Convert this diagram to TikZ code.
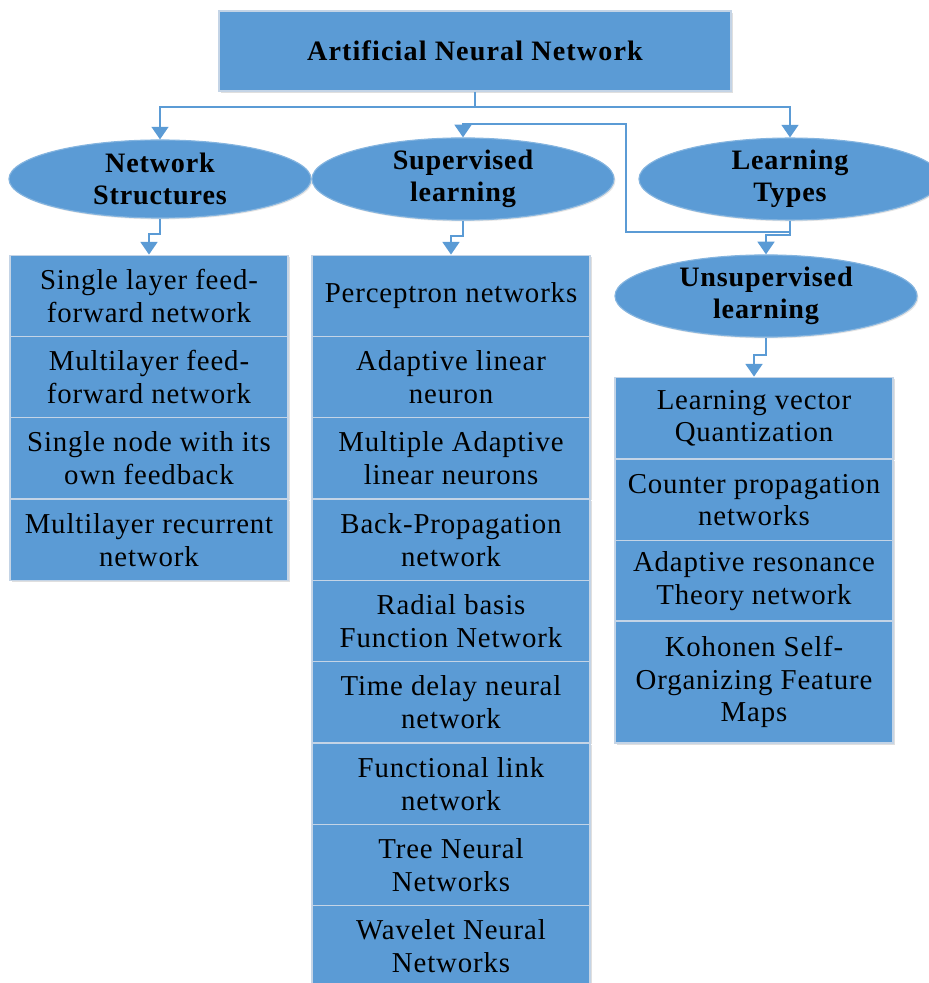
\documentclass[tikz,border=0pt]{standalone}
\usepackage{fontspec}
\setmainfont{Liberation Serif}
\usetikzlibrary{arrows.meta,shapes.geometric,shadows}
\definecolor{annblue}{RGB}{91,155,213}
\definecolor{cellline}{RGB}{196,212,230}
\tikzset{
  cell/.style={rectangle, fill=annblue, draw=cellline, line width=1.1pt,
    minimum width=6.95cm, minimum height=2.03cm, inner sep=0pt, align=center,
    drop shadow={shadow xshift=1.2pt, shadow yshift=-1.2pt, opacity=0.25},
    font=\fontsize{20.5}{23}\selectfont\addfontfeature{LetterSpace=3}},
  oval/.style={ellipse, fill=annblue, draw=annblue!75!white, line width=0.8pt,
    minimum width=7.55cm, minimum height=1.95cm, inner sep=0pt, align=center,
    drop shadow={shadow xshift=1pt, shadow yshift=-1pt, opacity=0.2},
    font=\fontsize{20}{23}\selectfont\bfseries\addfontfeature{LetterSpace=3}},
  link/.style={draw=annblue, line width=1.4pt, -{Triangle[width=12pt,length=9pt]}}
}
\begin{document}
\begin{tikzpicture}[x=0.025cm, y=-0.025cm]
\fill[white] (0,0) rectangle (928,983);
\useasboundingbox (0,0) rectangle (928,983);

% root and the four groups
\node[cell, minimum width=12.8cm, minimum height=2cm,
  font=\fontsize{20}{23}\selectfont\bfseries\addfontfeature{LetterSpace=4}] (ann) at (475,51) {Artificial Neural Network};
\node[oval] (netstruct) at (160,179) {Network\\Structures};
\node[oval] (superv) at (463,179) {Supervised\\learning};
\node[oval] (ltypes) at (790,179) {Learning\\Types};
\node[oval] (unsuperv) at (766,296) {Unsupervised\\learning};

% network structures
\foreach \n/\y/\t in {1/296/{Single layer feed-\\forward network},
  2/377/{Multilayer feed-\\forward network},
  3/458/{Single node with its\\own feedback},
  4/540/{Multilayer recurrent\\network}}{
\node[cell] (ns\n) at (149,\y) {\t};}

% supervised learning
\foreach \n/\y/\t in {1/296/{Perceptron networks},
  2/377/{Adaptive linear\\neuron},
  3/458/{Multiple Adaptive\\linear neurons},
  4/540/{Back-Propagation\\network},
  5/621/{Radial basis\\Function Network},
  6/702/{Time delay neural\\network},
  7/784/{Functional link\\network},
  8/865/{Tree Neural\\Networks},
  9/946/{Wavelet Neural\\Networks}}{
\node[cell] (sl\n) at (451,\y) {\t};}

% unsupervised learning
\foreach \n/\y/\t in {1/418/{Learning vector\\Quantization},
  2/500/{Counter propagation\\networks},
  3/581/{Adaptive resonance\\Theory network}}{
\node[cell] (ul\n) at (754,\y) {\t};}
\node[cell, minimum height=3.05cm] (ul4) at (754,682) {Kohonen Self-\\Organizing Feature\\Maps};

% connectors
\coordinate (split) at (475,107);
\coordinate (bend) at (626,232);
\coordinate (topbend) at (626,124);
\draw[annblue, line width=1.4pt] (ann.south) -- (split);
\draw[link] (split) -| (netstruct.north);
\draw[link] (split) -| (ltypes.north);
\draw[link] (ltypes.south) |- (bend) -- (topbend) -| (superv.north);
\draw[link] (ltypes.south) -- ++(0,14) -| (unsuperv.north);
\draw[link] (netstruct.south) -- ++(0,15) -| (ns1.north);
\draw[link] (superv.south) -- ++(0,15) -| (sl1.north);
\draw[link] (unsuperv.south) -- ++(0,17) -| (ul1.north);
\end{tikzpicture}
\end{document}
